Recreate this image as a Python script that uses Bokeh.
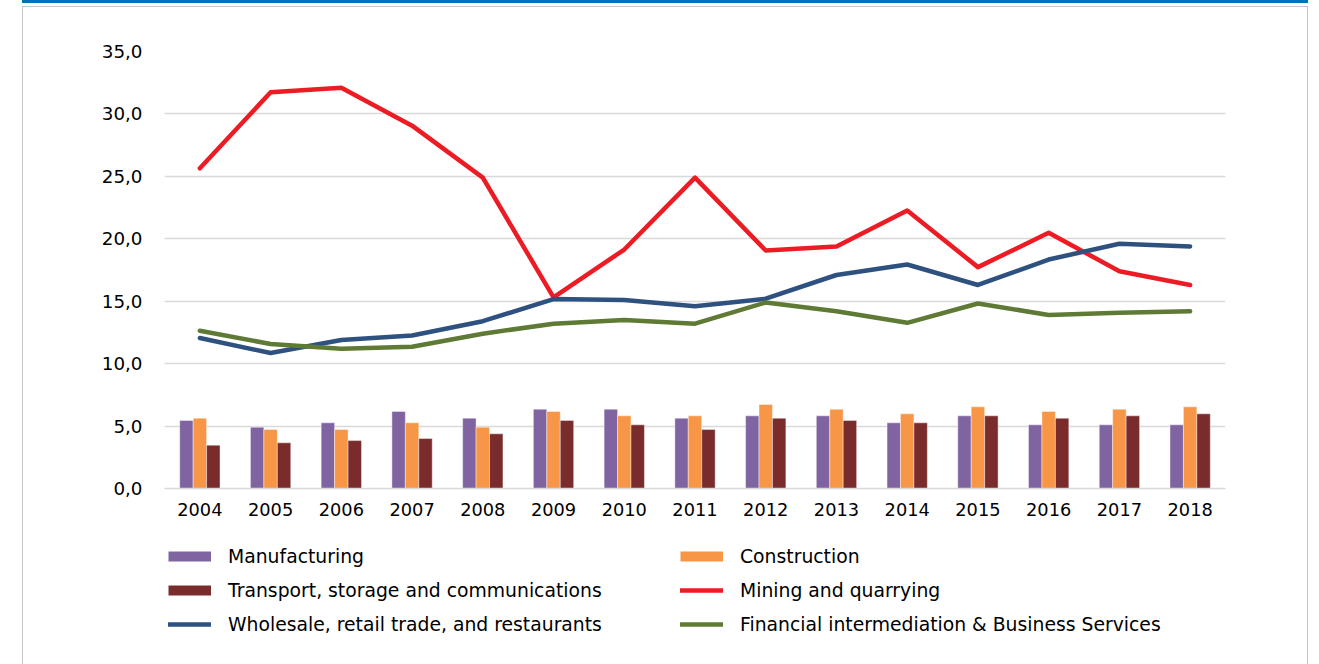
from bokeh.plotting import figure
from bokeh.layouts import column
from bokeh.models import (ColumnDataSource, FactorRange, Range1d, FixedTicker,
                          Legend, LegendItem, InlineStyleSheet)
from bokeh.transform import dodge
from bokeh.embed import file_html
from bokeh.resources import INLINE

# ---------------- data ----------------
years = [str(y) for y in range(2004, 2019)]
manufacturing = [5.45, 4.91, 5.26, 6.17, 5.63, 6.35, 6.35, 5.63, 5.82, 5.82, 5.26, 5.82, 5.10, 5.10, 5.10]
construction = [5.63, 4.73, 4.73, 5.26, 4.91, 6.17, 5.82, 5.82, 6.73, 6.35, 5.98, 6.54, 6.17, 6.35, 6.54]
transport = [3.47, 3.66, 3.84, 4.00, 4.38, 5.45, 5.10, 4.73, 5.63, 5.45, 5.26, 5.82, 5.63, 5.82, 5.98]
mining = [25.65, 31.73, 32.10, 29.06, 24.90, 15.30, 19.14, 24.90, 19.06, 19.38, 22.26, 17.73, 20.48, 17.40, 16.30]
wholesale = [12.05, 10.85, 11.90, 12.26, 13.40, 15.17, 15.10, 14.60, 15.20, 17.10, 17.94, 16.30, 18.34, 19.60, 19.38]
financial = [12.64, 11.57, 11.20, 11.36, 12.40, 13.20, 13.50, 13.20, 14.90, 14.20, 13.27, 14.82, 13.90, 14.08, 14.20]

series_names = ["Manufacturing", "Construction", "Transport, storage and communications",
                "Mining and quarrying", "Wholesale, retail trade, and restaurants",
                "Financial intermediation & Business Services"]

y_ticks = [0, 5, 10, 15, 20, 25, 30, 35]
y_tick_labels = ["0,0", "5,0", "10,0", "15,0", "20,0", "25,0", "30,0", "35,0"]

# ---------------- style ----------------
C_MAN = "#8064a2"
C_CON = "#f79646"
C_TRA = "#7a2c2d"
C_MIN = "#ed1c24"
C_WHO = "#2e5180"
C_FIN = "#5f7a34"
GRID = "#d9d9d9"
FONT = "DejaVu Sans"
LW = 4.5

src = ColumnDataSource(dict(years=years, man=manufacturing, con=construction, tra=transport,
                            mining=mining, who=wholesale, fin=financial))

W = 1319
H1, H2 = 530, 134

# ---------------- main chart ----------------
p = figure(width=W, height=H1, x_range=FactorRange(*years), y_range=Range1d(0, 35),
           output_backend="svg", toolbar_location=None,
           min_border_left=164, min_border_right=94, min_border_top=51, min_border_bottom=H1 - 488)
p.outline_line_color = None
p.background_fill_color = "white"
p.border_fill_color = None

p.yaxis.ticker = FixedTicker(ticks=y_ticks)
p.yaxis.major_label_overrides = {t: l for t, l in zip(y_ticks, y_tick_labels)}
p.yaxis.axis_line_color = None
p.yaxis.major_tick_line_color = None
p.yaxis.minor_tick_line_color = None
p.yaxis.major_label_standoff = 16
p.yaxis.major_label_text_font = FONT
p.yaxis.major_label_text_font_size = "18.3px"
p.yaxis.major_label_text_color = "black"

p.xaxis.axis_line_color = GRID
p.xaxis.axis_line_width = 1.5
p.xaxis.major_tick_line_color = None
p.xaxis.minor_tick_line_color = None
p.xaxis.major_label_standoff = 8
p.xaxis.major_label_text_font = FONT
p.xaxis.major_label_text_font_size = "17.8px"
p.xaxis.major_label_text_color = "black"

p.xgrid.grid_line_color = None
p.ygrid.grid_line_color = GRID
p.ygrid.grid_line_width = 1.5

bw = 0.19
p.vbar(x=dodge("years", -bw, range=p.x_range), top="man", width=bw, source=src,
       fill_color=C_MAN, line_color="white", line_alpha=0.6, line_width=0.7)
p.vbar(x=dodge("years", 0.0, range=p.x_range), top="con", width=bw, source=src,
       fill_color=C_CON, line_color="white", line_alpha=0.6, line_width=0.7)
p.vbar(x=dodge("years", bw, range=p.x_range), top="tra", width=bw, source=src,
       fill_color=C_TRA, line_color="white", line_alpha=0.6, line_width=0.7)

p.line("years", "mining", source=src, line_color=C_MIN, line_width=LW,
       line_join="round", line_cap="round")
p.line("years", "who", source=src, line_color=C_WHO, line_width=LW,
       line_join="round", line_cap="round")
p.line("years", "fin", source=src, line_color=C_FIN, line_width=LW,
       line_join="round", line_cap="round")

# ---------------- legend strip ----------------
q = figure(width=W, height=H2, x_range=Range1d(0, 1), y_range=Range1d(0, 1),
           output_backend="svg", toolbar_location=None,
           x_axis_location=None, y_axis_location=None,
           min_border_left=0, min_border_right=0, min_border_top=0, min_border_bottom=0)
q.outline_line_color = None
q.grid.grid_line_color = None
q.background_fill_color = None
q.border_fill_color = None

# swatch renderers: data placed outside the visible range, only their legend glyphs show
off = ColumnDataSource(dict(x=[5, 6], y=[5, 6]))
g_man = q.line("x", "y", source=off, line_color=C_MAN, line_width=10, line_cap="butt")
g_con = q.line("x", "y", source=off, line_color=C_CON, line_width=10, line_cap="butt")
g_tra = q.line("x", "y", source=off, line_color=C_TRA, line_width=10, line_cap="butt")
g_min = q.line("x", "y", source=off, line_color=C_MIN, line_width=LW, line_cap="round")
g_who = q.line("x", "y", source=off, line_color=C_WHO, line_width=LW, line_cap="round")
g_fin = q.line("x", "y", source=off, line_color=C_FIN, line_width=LW, line_cap="round")


def make_legend(pairs, loc):
    return Legend(items=[LegendItem(label=l, renderers=[r]) for l, r in pairs],
                  location=loc, orientation="vertical",
                  padding=0, margin=0, spacing=10, glyph_width=43, glyph_height=24,
                  label_height=24, label_standoff=17,
                  border_line_color=None, background_fill_alpha=0,
                  label_text_font=FONT, label_text_font_size="18.8px",
                  label_text_color="black")


q.add_layout(make_legend([(series_names[0], g_man), (series_names[2], g_tra),
                          (series_names[4], g_who)], (4, 28)))
q.add_layout(make_legend([(series_names[1], g_con), (series_names[3], g_min),
                          (series_names[5], g_fin)], (516, 28)))

layout = column(p, q, spacing=0)
layout.stylesheets = [InlineStyleSheet(css="""
:host::before { content: ""; position: absolute; left: 22px; top: 0px; width: 1286px; height: 3px;
  background: #0072bc; z-index: 5; pointer-events: none; }
:host::after { content: ""; position: absolute; left: 22px; top: 6px; width: 1286px; height: 658px;
  box-sizing: border-box; border: 1.5px solid #c4c4c4; border-bottom: none; z-index: 5; pointer-events: none; }
""")]

open("out.html", "w").write(file_html(layout, INLINE))
